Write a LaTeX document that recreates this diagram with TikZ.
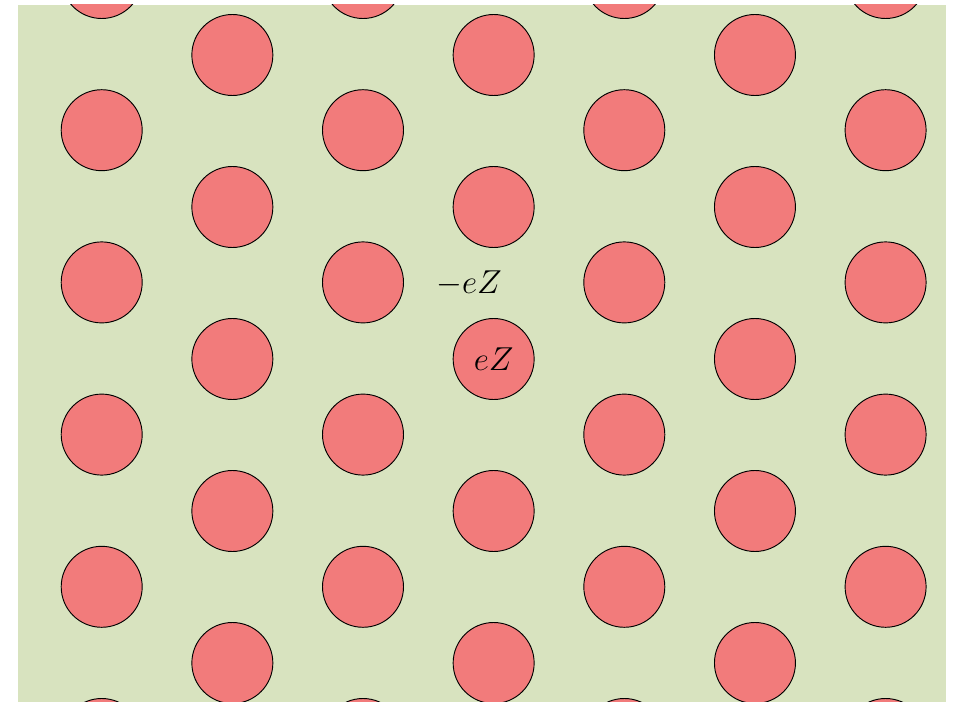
\documentclass[tikz,border=0pt]{standalone}
\usepackage{amsmath,amssymb}
\usepackage{xcolor}
\usepackage{tikz}
\usetikzlibrary{positioning}

\definecolor{bggreen}{HTML}{D8E3BF}
\definecolor{ionred}{HTML}{F27B7B}

\begin{document}
\begin{tikzpicture}[
  x=0.75pt, y=-0.75pt,
  ion/.style={circle, draw, fill=ionred, line width=0.7pt, minimum size=60.75pt, inner sep=0pt},
  charge/.style={font=\fontsize{24}{28}\selectfont, inner sep=0pt}
]
\useasboundingbox (0,0) rectangle (953,702);
\fill[bggreen] (18,5) rectangle (946,702);
\begin{scope}
\clip (18,5) rectangle (946,702);
% ions on the odd columns
\foreach \i in {0,2,4,6}
  \foreach \k in {0,...,5}
    \node[ion] (ion-\i-\k) at ({101.7+130.65*\i},{-22+152.2*\k}) {};
% ions on the even columns
\foreach \i in {1,3,5}
  \foreach \k in {0,...,4}
    \node[ion] (ion-\i-\k) at ({101.7+130.65*\i},{55+152*\k}) {};
\end{scope}
\node[charge] (ez) at (ion-3-2) {$eZ$};
\node[charge] (minusez) at (469,284) {$-eZ$};
\end{tikzpicture}
\end{document}
